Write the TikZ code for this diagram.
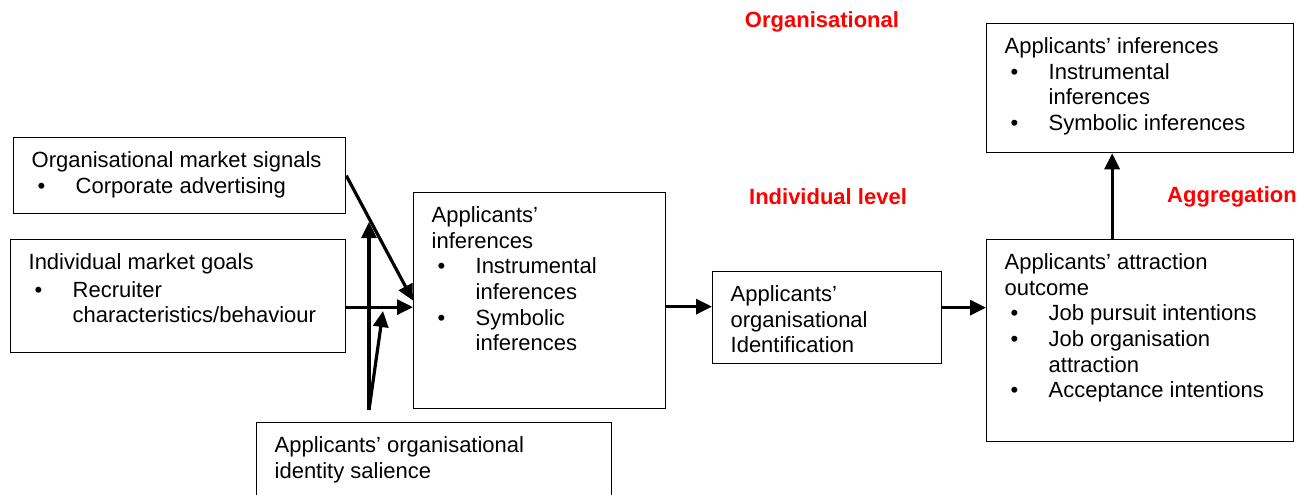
\documentclass[tikz,border=0pt]{standalone}
\usepackage{fontspec}
\setmainfont{Liberation Sans}
\usepackage{xcolor}
\usetikzlibrary{arrows.meta}
\tikzset{
    plain-box/.style = {draw, line width=1.3pt, rectangle, inner xsep=18pt, inner ysep=0pt, anchor=north west},
    level-label/.style = {text=red, font=\fontsize{22}{26}\selectfont\bfseries},
    thick-arrow/.style = {line width=3.2pt, -{Triangle[length=16pt,width=15pt]}},
}
\newcommand{\bitem}{\par\hangindent=44pt\hangafter=1\noindent\makebox[44pt][l]{\hspace{6pt}\textbullet}}
\newcommand{\firstline}{\rule{0pt}{30pt}}

\begin{document}
\begin{tikzpicture}[x=1pt, y=-1pt, font=\fontsize{22}{25.6}\selectfont]
\useasboundingbox (0,0) rectangle (1314,495);

\node [plain-box] (signals) at (13,137) {\begin{minipage}[t][76pt][t]{296pt}
    \firstline Organisational market signals
    \bitem Corporate advertising
\end{minipage}};
\node [plain-box] (goals) at (10,239) {\begin{minipage}[t][113pt][t]{299pt}
    \firstline Individual market goals\par\vspace{2pt}
    \bitem Recruiter\\characteristics/behaviour
\end{minipage}};
\node [plain-box] (inf) at (413,192) {\begin{minipage}[t][216pt][t]{216pt}
    \firstline Applicants’\\inferences
    \bitem Instrumental\\inferences
    \bitem Symbolic\\inferences
\end{minipage}};
\node [plain-box] (salience) at (256,422) {\begin{minipage}[t][100pt][t]{319pt}
    \firstline Applicants’ organisational\\identity salience
\end{minipage}};
\node [plain-box] (ident) at (712,271) {\begin{minipage}[t][92pt][t]{193pt}
    \firstline Applicants’\\organisational\\Identification
\end{minipage}};
\node [plain-box] (outcome) at (986,239) {\begin{minipage}[t][202pt][t]{271pt}
    \firstline Applicants’ attraction\\outcome
    \bitem Job pursuit intentions
    \bitem Job organisation\\attraction
    \bitem Acceptance intentions
\end{minipage}};
\node [plain-box] (infg) at (986,23) {\begin{minipage}[t][129pt][t]{271pt}
    \firstline Applicants’ inferences
    \bitem Instrumental\\inferences
    \bitem Symbolic inferences
\end{minipage}};

\node [level-label] (org-level) at (822,22) {Organisational};
\node [level-label] (ind-level) at (828,197) {Individual level};
\node [level-label] (agg-level) at (1232,197) {Aggregation};

\coordinate (fork) at (369,410);
\coordinate (fork-up) at (369,222);
\coordinate (fork-mid) at (383,311);

\draw [thick-arrow] (signals.east) -- (inf.west);
\draw [thick-arrow] ([yshift=-11pt]goals.east) -- ([yshift=-11pt]goals.east -| inf.west);
\draw [thick-arrow] (fork) -- (fork-up);
\draw [thick-arrow] (fork) -- (fork-mid);
\draw [thick-arrow] ([yshift=-6pt]inf.east) -- ([yshift=-6pt]inf.east -| ident.west);
\draw [thick-arrow] ([yshift=10pt]ident.east) -- ([yshift=10pt]ident.east -| outcome.west);
\draw [thick-arrow] ([xshift=-28pt]outcome.north) -- ([xshift=-28pt]outcome.north |- infg.south);
\end{tikzpicture}
\end{document}
